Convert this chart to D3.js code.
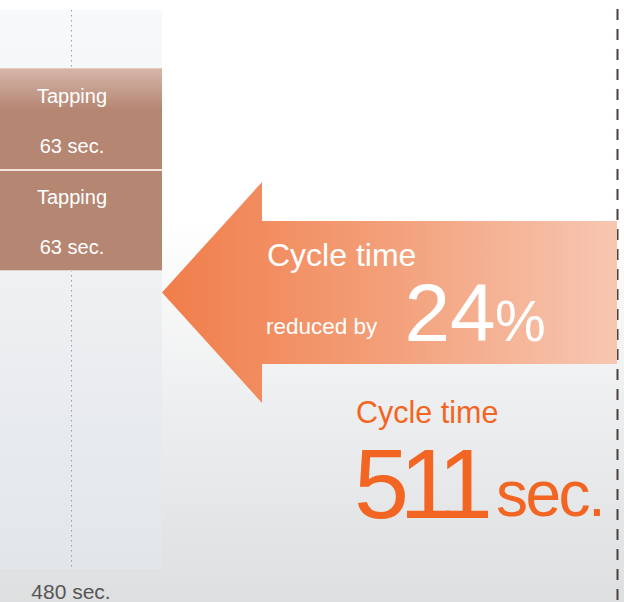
<!DOCTYPE html>
<html>
<head>
<meta charset="utf-8">
<script src="https://cdn.jsdelivr.net/npm/d3@7"></script>
<style>
  html, body { margin: 0; padding: 0; background: #fff; }
  svg { display: block; }
  text { font-family: "Liberation Sans", Arial, Helvetica, sans-serif; }
</style>
</head>
<body>
<div id="chart"></div>
<script>
// Process segments stacked in the column (seconds each)
const segmentNames = ["Tapping", "Tapping"];
const segmentSeconds = [63, 63];
// Column footer label
const columnLabel = "480 sec.";
// Headline figures
const reductionPercent = 24;
const cycleTimeSeconds = 511;

const W = 624, H = 602;
const svg = d3.select("#chart").append("svg")
  .attr("width", W).attr("height", H);
const defs = svg.append("defs");

function vGrad(id, stops, x1 = 0, y1 = 0, x2 = 0, y2 = 1) {
  const g = defs.append("linearGradient").attr("id", id)
    .attr("x1", x1).attr("y1", y1).attr("x2", x2).attr("y2", y2);
  stops.forEach(([o, c]) => g.append("stop").attr("offset", o).attr("stop-color", c));
}
vGrad("bg", [[0, "#ffffff"], [0.36, "#ffffff"], [0.66, "#eeeff0"], [1, "#dedfe1"]]);
vGrad("panel", [[0, "#f8f9fa"], [0.5, "#eef0f2"], [1, "#e2e6ea"]]);
vGrad("sheen", [[0, "#d6b6a9"], [1, "#b58672"]]);
vGrad("arrow", [[0, "#f17d4a"], [0.5, "#f3a07a"], [1, "#f7c7b2"]], 0, 0, 1, 0);

// Background
svg.append("rect").attr("width", W).attr("height", H).attr("fill", "url(#bg)");

// Column geometry
const colX = d3.scaleBand().domain(["col"]).range([0, 162]).padding(0);
const colCenter = 72;
const panelTop = 10, panelBottom = 569;

svg.append("rect")
  .attr("x", colX("col")).attr("y", panelTop)
  .attr("width", colX.bandwidth()).attr("height", panelBottom - panelTop)
  .attr("fill", "url(#panel)");

// Dotted centre guide
svg.append("line")
  .attr("x1", colCenter - 0.5).attr("x2", colCenter - 0.5)
  .attr("y1", panelTop).attr("y2", panelBottom)
  .attr("stroke", "#9a9ea3").attr("stroke-width", 1)
  .attr("stroke-dasharray", "1.5,3.5");

// Stacked segments
const total = d3.sum(segmentSeconds);
const y = d3.scaleLinear().domain([0, total]).range([270, 68]);
const stack = [];
let acc = total;
segmentSeconds.forEach((s, i) => {
  stack.push({ name: segmentNames[i], sec: s, top: acc, bottom: acc - s, i });
  acc -= s;
});

const seg = svg.append("g").selectAll("g").data(stack).join("g");
seg.append("rect")
  .attr("x", colX("col")).attr("width", colX.bandwidth())
  .attr("y", d => y(d.top)).attr("height", d => y(d.bottom) - y(d.top))
  .attr("fill", "#b58672");
// top highlight on the first segment
seg.filter(d => d.i === 0).append("rect")
  .attr("x", colX("col")).attr("width", colX.bandwidth())
  .attr("y", d => y(d.top)).attr("height", 42)
  .attr("fill", "url(#sheen)");
// light edge lines
seg.append("line")
  .attr("x1", 0).attr("x2", colX.bandwidth())
  .attr("y1", d => y(d.top) + (d.i === 0 ? 0.5 : 1)).attr("y2", d => y(d.top) + (d.i === 0 ? 0.5 : 1))
  .attr("stroke", d => d.i === 0 ? "#e4c9bd" : "#f4e4dd")
  .attr("stroke-width", d => d.i === 0 ? 1 : 2);
svg.append("line")
  .attr("x1", 0).attr("x2", colX.bandwidth())
  .attr("y1", y(0) + 0.5).attr("y2", y(0) + 0.5)
  .attr("stroke", "#ddd3cf").attr("stroke-width", 1);

seg.append("text")
  .attr("x", colCenter).attr("text-anchor", "middle")
  .attr("y", d => y(d.top) + 35)
  .attr("font-size", 20).attr("fill", "#ffffff")
  .text(d => d.name);
seg.append("text")
  .attr("x", colCenter).attr("text-anchor", "middle")
  .attr("y", d => y(d.top) + 85)
  .attr("font-size", 20).attr("fill", "#ffffff")
  .text(d => `${d.sec} sec.`);

// Column footer
svg.append("text")
  .attr("x", colCenter - 1).attr("y", 599).attr("text-anchor", "middle")
  .attr("font-size", 21).attr("fill", "#555555")
  .text(columnLabel);

// Dashed right boundary
svg.append("line")
  .attr("x1", 617.5).attr("x2", 617.5).attr("y1", 9).attr("y2", H)
  .attr("stroke", "#4a403c").attr("stroke-width", 2)
  .attr("stroke-dasharray", "11,9");

// Reduction arrow pointing back at the column
const tipX = colX.range()[1], tipY = 292.5;
const headX = 262, headTop = 182, headBot = 403;
const shaftTop = 221, shaftBot = 364, shaftEnd = 617;
const arrowPts = [
  [tipX, tipY], [headX, headTop], [headX, shaftTop], [shaftEnd, shaftTop],
  [shaftEnd, shaftBot], [headX, shaftBot], [headX, headBot]
];
svg.append("path")
  .attr("d", d3.line()(arrowPts) + "Z")
  .attr("fill", "url(#arrow)");

svg.append("text")
  .attr("x", 267).attr("y", 266)
  .attr("font-size", 32).attr("fill", "#ffffff")
  .text("Cycle time");
svg.append("text")
  .attr("x", 266).attr("y", 334)
  .attr("font-size", 22.5).attr("fill", "#ffffff")
  .text("reduced by");
svg.append("text")
  .attr("x", 404.5).attr("y", 340.5)
  .attr("font-size", 82).attr("fill", "#ffffff")
  .text(reductionPercent);
svg.append("text")
  .attr("x", 495).attr("y", 340.5)
  .attr("font-size", 57).attr("fill", "#ffffff")
  .text("%");

// Resulting cycle time
const orange = "#f26522";
svg.append("text")
  .attr("x", 356).attr("y", 423)
  .attr("font-size", 30.5).attr("fill", orange)
  .text("Cycle time");
svg.append("text")
  .attr("x", 354).attr("y", 518)
  .attr("font-size", 99).attr("fill", orange)
  .attr("letter-spacing", -9.5)
  .text(cycleTimeSeconds);
svg.append("text")
  .attr("x", 496).attr("y", 516)
  .attr("font-size", 64).attr("fill", orange)
  .attr("letter-spacing", -2.5)
  .text("sec.");
</script>
</body>
</html>
